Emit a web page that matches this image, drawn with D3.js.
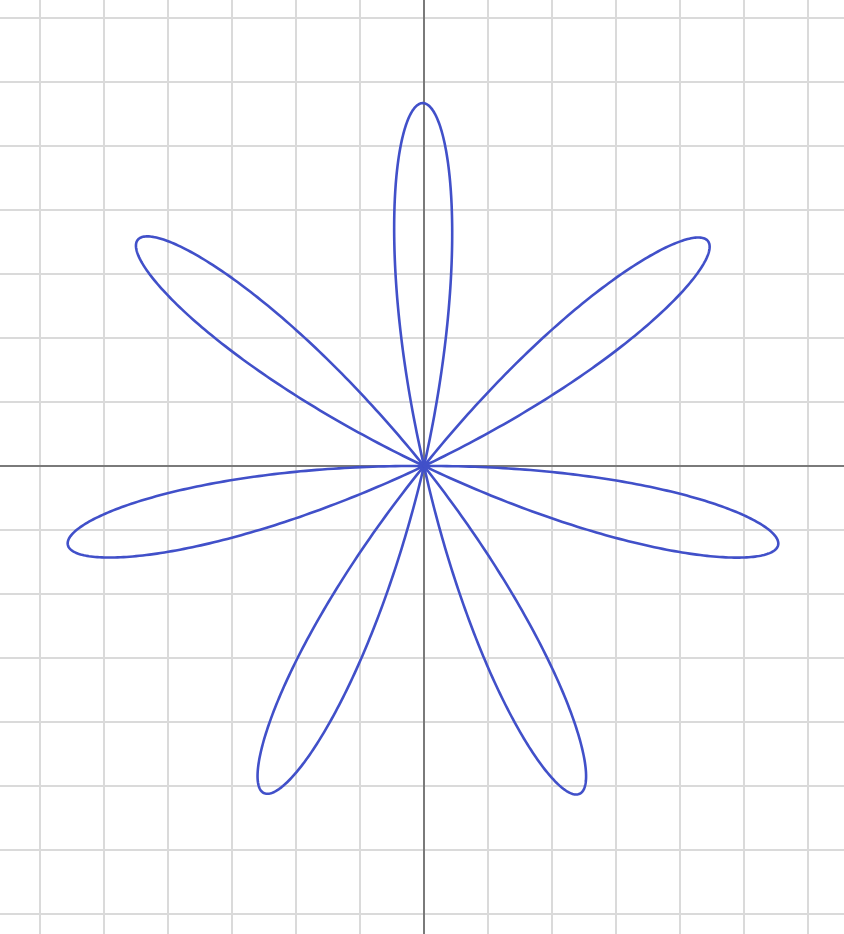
<!DOCTYPE html>
<html>
<head>
<meta charset="utf-8">
<script src="https://cdn.jsdelivr.net/npm/d3@7"></script>
<style>
  html, body { margin: 0; padding: 0; background: #fff; }
  svg { display: block; }
</style>
</head>
<body>
<svg id="chart" width="844" height="934"></svg>
<script>
// Rose curve with 7 petals
const petalCount = 7;
// tip direction of each petal, degrees counter-clockwise from +x axis
const petalAngles = [90.2, 141.7, 192.5, 243.9, 295.4, 347.4, 38.4];
// tip distance from origin, in grid units
const petalLengths = [5.67, 5.70, 5.70, 5.69, 5.67, 5.67, 5.66];
// grid unit step
const gridStep = 1;

const W = 844, H = 934;
const svg = d3.select("#chart");

const x = d3.scaleLinear().domain([-424 / 64, (W - 424) / 64]).range([0, W]);
const y = d3.scaleLinear().domain([466 / 64, -(H - 466) / 64]).range([0, H]);

const xs = d3.range(Math.ceil(x.domain()[0]), Math.floor(x.domain()[1]) + 1, gridStep);
const ys = d3.range(Math.ceil(y.domain()[1]), Math.floor(y.domain()[0]) + 1, gridStep);

const grid = svg.append("g");
grid.selectAll("line.v").data(xs.filter(d => d !== 0)).join("line")
  .attr("x1", d => x(d)).attr("x2", d => x(d))
  .attr("y1", 0).attr("y2", H)
  .attr("stroke", "#dadada").attr("stroke-width", 2);
grid.selectAll("line.h").data(ys.filter(d => d !== 0)).join("line")
  .attr("y1", d => y(d)).attr("y2", d => y(d))
  .attr("x1", 0).attr("x2", W)
  .attr("stroke", "#dadada").attr("stroke-width", 2);

// axes
svg.append("line").attr("x1", x(0)).attr("x2", x(0)).attr("y1", 0).attr("y2", H)
  .attr("stroke", "#7a7a7a").attr("stroke-width", 2);
svg.append("line").attr("y1", y(0)).attr("y2", y(0)).attr("x1", 0).attr("x2", W)
  .attr("stroke", "#7a7a7a").attr("stroke-width", 2);

// petals
const half = Math.PI / (2 * petalCount);
const line = d3.line().x(d => x(d[0])).y(d => y(d[1])).curve(d3.curveLinear);
petalAngles.forEach((a, i) => {
  const alpha = a * Math.PI / 180;
  const L = petalLengths[i];
  const pts = d3.range(0, 201).map(k => {
    const t = -half + (2 * half) * k / 200;
    const r = L * Math.max(0, Math.cos(petalCount * t));
    return [r * Math.cos(alpha + t), r * Math.sin(alpha + t)];
  });
  svg.append("path").attr("d", line(pts))
    .attr("fill", "none").attr("stroke", "#4150c9")
    .attr("stroke-width", 2.6).attr("stroke-linejoin", "round").attr("stroke-linecap", "round");
});
</script>
</body>
</html>
